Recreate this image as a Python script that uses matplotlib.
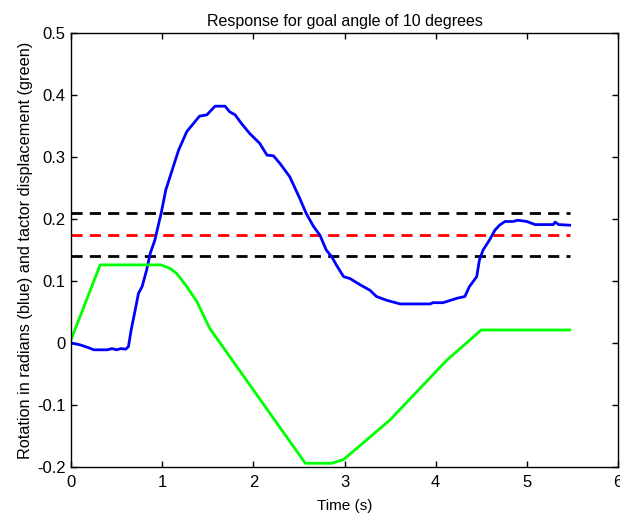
import matplotlib
matplotlib.use("Agg")
import matplotlib.pyplot as plt
import numpy as np

plt.rcParams['font.family'] = ['Liberation Sans', 'DejaVu Sans']

# Blue: rotation (rad)
t_blue = [0.0, 0.1, 0.2, 0.25, 0.4, 0.45, 0.5, 0.55, 0.6, 0.63, 0.66, 0.70, 0.74, 0.78, 0.83,
          0.87, 0.92, 0.99, 1.04, 1.086, 1.18, 1.27, 1.41, 1.49, 1.58, 1.69, 1.74, 1.80, 1.87,
          1.96, 2.07, 2.15, 2.22, 2.29, 2.40, 2.51, 2.58, 2.66, 2.73, 2.80, 2.86, 2.91, 2.99,
          3.06, 3.17, 3.28, 3.35, 3.46, 3.61, 3.94, 3.97, 4.08, 4.23, 4.32, 4.37, 4.45, 4.48,
          4.52, 4.59, 4.65, 4.70, 4.76, 4.85, 4.90, 5.00, 5.09, 5.29, 5.31, 5.35, 5.47]
v_blue = [0.0, -0.003, -0.008, -0.011, -0.011, -0.009, -0.011, -0.009, -0.010, -0.006, 0.021,
          0.050, 0.080, 0.091, 0.118, 0.145, 0.166, 0.210, 0.247, 0.268, 0.311, 0.341, 0.366,
          0.368, 0.382, 0.382, 0.373, 0.368, 0.354, 0.338, 0.322, 0.303, 0.302, 0.290, 0.268,
          0.233, 0.209, 0.188, 0.174, 0.150, 0.139, 0.126, 0.107, 0.104, 0.094, 0.085, 0.075,
          0.069, 0.063, 0.063, 0.065, 0.065, 0.072, 0.075, 0.091, 0.107, 0.134, 0.150, 0.166,
          0.182, 0.190, 0.196, 0.196, 0.198, 0.196, 0.191, 0.191, 0.195, 0.191, 0.190]

# Green: tactor displacement
t_green = [0.0, 0.32, 0.99, 1.09, 1.16, 1.27, 1.38, 1.52, 2.57, 2.86, 2.99, 3.50, 4.12, 4.50, 5.47]
v_green = [0.005, 0.126, 0.126, 0.120, 0.112, 0.091, 0.067, 0.024, -0.194, -0.194, -0.188,
           -0.124, -0.028, 0.021, 0.021]

goal = 0.1745
band = [goal * 1.2, goal * 0.8]
t_span = [0.0, 5.47]

fig = plt.figure(figsize=(6.2, 5.16), dpi=100)
ax = fig.add_axes([0.1145, 0.095, 0.8823, 0.841])

dash = (0, (4, 2.6))
ax.plot(t_span, [band[0]] * 2, color='black', lw=2, linestyle=dash)
ax.plot(t_span, [goal] * 2, color='red', lw=2, linestyle=dash)
ax.plot(t_span, [band[1]] * 2, color='black', lw=2, linestyle=dash)
ax.plot(t_blue, v_blue, color='#0000ff', lw=2)
ax.plot(t_green, v_green, color='#00ff00', lw=2)

ax.set_xlim(0, 6)
ax.set_ylim(-0.2, 0.5)
ax.set_xticks([0, 1, 2, 3, 4, 5, 6])
ax.set_yticks([-0.2, -0.1, 0, 0.1, 0.2, 0.3, 0.4, 0.5])
ax.set_yticklabels(['-0.2', '-0.1', '0', '0.1', '0.2', '0.3', '0.4', '0.5'])
ax.tick_params(direction='in', length=4, labelsize=12, top=True, right=True, width=1)
ax.tick_params(axis='x', pad=6)
ax.tick_params(axis='y', pad=4)
for s in ax.spines.values():
    s.set_linewidth(1)
ax.set_title('Response for goal angle of 10 degrees', fontsize=11.5, pad=5)
ax.set_xlabel('Time (s)', fontsize=11, labelpad=6)
ax.set_ylabel('Rotation in radians (blue) and tactor displacement (green)', fontsize=11.7, labelpad=3)

fig.savefig('out.png', dpi=100)
